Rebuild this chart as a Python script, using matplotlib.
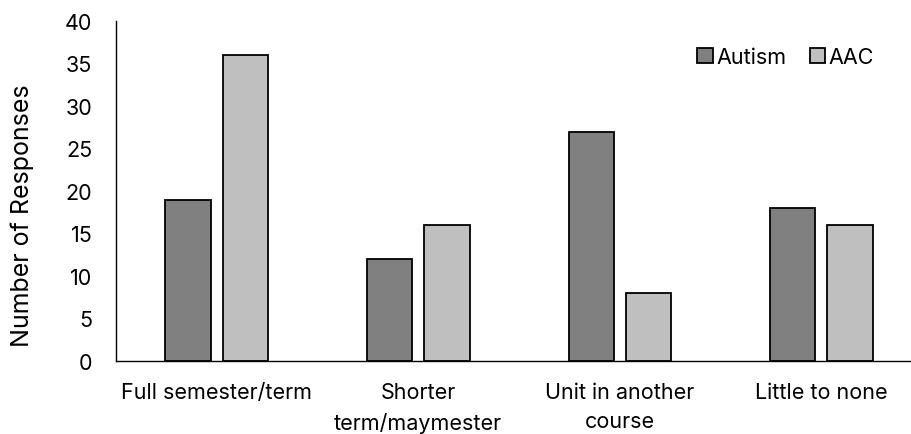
import numpy as np
import matplotlib
matplotlib.use("Agg")
import matplotlib.pyplot as plt

plt.rcParams["font.family"] = ["Inter", "DejaVu Sans"]

# ── DATA ──────────────────────────────────────────────────────────────────────
categories = ["Full semester/term", "Shorter\nterm/maymester",
              "Unit in another\ncourse", "Little to none"]
autism = [19, 12, 27, 18]
aac    = [36, 16, 8, 16]
yticks = [0, 5, 10, 15, 20, 25, 30, 35, 40]

FS = 15.5

# ── PLOT ──────────────────────────────────────────────────────────────────────
fig = plt.figure(figsize=(9.12, 4.35), dpi=100)
ax = fig.add_axes([116 / 912, 1 - 362 / 435, 796 / 912, 340 / 435])

x = np.arange(len(categories))
w = 0.225
off = 0.142
ax.bar(x - off, autism, w, color="#808080", edgecolor="black", linewidth=1.3,
       label="Autism")
ax.bar(x + off, aac, w, color="#bfbfbf", edgecolor="black", linewidth=1.3,
       label="AAC")

ax.set_xlim(-0.5, 3.45)
ax.set_ylim(0, 40)
ax.set_yticks(yticks)
ax.set_xticks(x)
ax.set_xticklabels(categories, fontsize=FS, linespacing=1.6)
ax.tick_params(axis="y", length=0, pad=17, labelsize=FS)
ax.tick_params(axis="x", length=0, pad=15)
ax.set_ylabel("Number of Responses", fontsize=18)
ax.yaxis.set_label_coords(-0.103, 0.43)

for side in ["top", "right"]:
    ax.spines[side].set_visible(False)
for side in ["left", "bottom"]:
    ax.spines[side].set_color("black")
    ax.spines[side].set_linewidth(1.0)

ax.legend(loc="upper right", bbox_to_anchor=(0.977, 0.98), ncol=2, frameon=False,
          fontsize=FS, handlelength=0.7, handleheight=0.7, handletextpad=0.2,
          columnspacing=1.05)

plt.savefig("out.png", dpi=100)
